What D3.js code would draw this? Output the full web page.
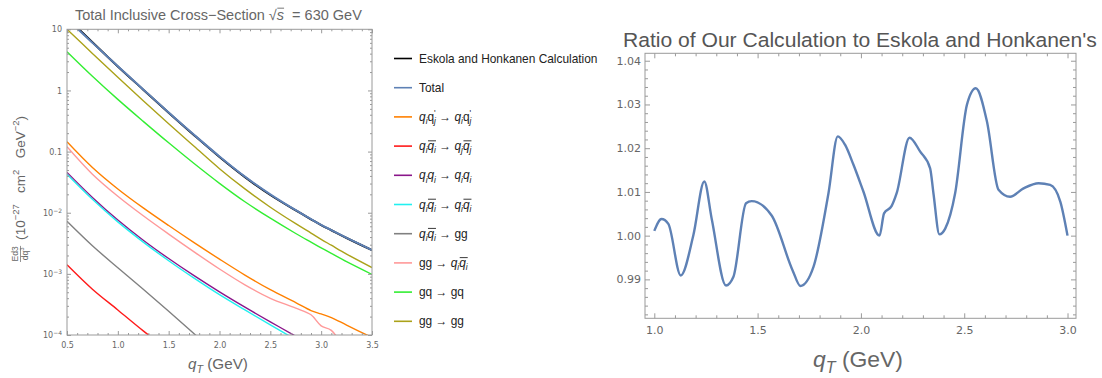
<!DOCTYPE html>
<html>
<head>
<meta charset="utf-8">
<title>Inclusive cross-section</title>
<script src="https://d3js.org/d3.v7.min.js"></script>
<style>
  body { margin: 0; background: #fff; }
  text { white-space: pre; }
</style>
</head>
<body>
<script>
// ---- data ----
var qT = [0.5, 0.75, 1.0, 1.25, 1.5, 1.75, 2.0, 2.25, 2.5, 2.75, 2.9, 3.0, 3.1, 3.25, 3.5];

// E d3sigma/dq3 in 10^-27 cm^2 GeV^-2 (null = below the plot)
var eskola   = [15.4, 6.15, 2.47, 1.03, 0.432, 0.185, 0.0815, 0.0382, 0.0195, 0.0109, 0.00781, 0.00628, 0.00517, 0.00386, 0.00244];
var total    = [14.8, 6.03, 2.48, 1.04, 0.437, 0.188, 0.0832, 0.0389, 0.0200, 0.0110, 0.00787, 0.00631, 0.00520, 0.00389, 0.00245];
var qqPrime  = [0.145, 0.0550, 0.0245, 0.0120, 0.00617, 0.00324, 0.00174, 0.000955, 0.000550, 0.000339, 0.000251, 0.000221, 0.000193, 0.000145, 0.0000912];
var qqbarJ   = [0.00141, 0.000562, 0.000257, 0.000117, 0.0000562, null, null, null, null, null, null, null, null, null, null];
var qqSame   = [0.0457, 0.0178, 0.00759, 0.00355, 0.00178, 0.000933, 0.000507, 0.000285, 0.000164, 0.0000955, 0.0000692, null, null, null, null];
var qqbarI   = [0.0427, 0.0166, 0.00708, 0.00331, 0.00164, 0.000851, 0.000457, 0.000257, 0.000146, 0.0000841, null, null, null, null, null];
var qqbarGG  = [0.00724, 0.00288, 0.00126, 0.000562, 0.000245, 0.000105, 0.0000447, null, null, null, null, null, null, null, null];
var ggQQbar  = [0.120, 0.0427, 0.0186, 0.00891, 0.00447, 0.00229, 0.00120, 0.000661, 0.000398, 0.000275, 0.000214, 0.000141, 0.000119, 0.0000501, null];
var gqGQ     = [4.31, 1.71, 0.714, 0.312, 0.139, 0.0637, 0.0302, 0.0151, 0.00813, 0.00457, 0.00330, 0.00266, 0.00216, 0.00158, 0.000977];
var ggGG     = [10.0, 4.03, 1.64, 0.676, 0.285, 0.122, 0.0525, 0.0245, 0.0123, 0.00661, 0.00465, 0.00367, 0.00294, 0.00211, 0.00127];

var seriesColors = ["#000000", "#5e81b5", "#ff8000", "#ff1a1a", "#8a168a", "#22f0f0", "#808080", "#ff9999", "#33ee33", "#aba21a"];

// ratio of our calculation to Eskola and Honkanen's
var ratioQ = [1.0, 1.035, 1.068, 1.128, 1.189, 1.242, 1.278, 1.347, 1.383, 1.444, 1.471, 1.568, 1.67, 1.707, 1.77, 1.843,
              1.888, 1.923, 1.964, 2.012, 2.09, 2.112, 2.149, 2.173, 2.235, 2.287, 2.335, 2.351, 2.38, 2.408, 2.456,
              2.513, 2.556, 2.61, 2.666, 2.722, 2.787, 2.86, 2.916, 2.965, 3.0];
var ratioV = [1.0011, 1.0038, 1.0027, 0.9909, 1.0001, 1.0124, 1.0038, 0.9886, 0.9906, 1.0074, 1.0079, 1.0046, 0.992, 0.9885, 0.9928, 1.0097,
              1.0227, 1.0208, 1.0162, 1.0101, 1.0000, 1.0051, 1.0068, 1.0097, 1.0224, 1.0192, 1.0154, 1.0097, 1.0003, 1.0016, 1.0097,
              1.0299, 1.0337, 1.0261, 1.0105, 1.0089, 1.0108, 1.012, 1.0116, 1.0078, 1.0000];

var logTicks = [1e-4, 1e-3, 1e-2, 0.1, 1, 10];
var logTickLabels = [["10", "\u22124"], ["10", "\u22123"], ["10", "\u22122"], ["0.1"], ["1"], ["10"]];

// ---- helpers ----
var FONT = "'Liberation Sans', Arial, sans-serif";
var svg = d3.select("body").append("svg")
  .attr("width", 1102).attr("height", 378)
  .style("font-family", FONT);

// draws a run of math pieces; returns the width used
function mathText(g, x, y, parts, size, color) {
  var cx = x;
  parts.forEach(function(p) {
    if (typeof p === "string") p = {t: p};
    var x0 = cx;
    var t = g.append("text").attr("x", cx).attr("y", y)
      .attr("font-size", size).attr("fill", color)
      .style("font-style", p.it ? "italic" : "normal").text(p.t);
    cx += t.node().getComputedTextLength();
    var adv = 0;
    if (p.sup) {
      var s = g.append("text").attr("x", cx).attr("y", y - size * 0.42)
        .attr("font-size", size * 0.7).attr("fill", color).text(p.sup);
      adv = Math.max(adv, s.node().getComputedTextLength());
    }
    if (p.sub) {
      var b = g.append("text").attr("x", cx).attr("y", y + size * 0.28)
        .attr("font-size", size * 0.7).attr("fill", color)
        .style("font-style", "italic").text(p.sub);
      adv = Math.max(adv, b.node().getComputedTextLength());
    }
    cx += adv;
    if (p.bar) {
      g.append("line").attr("x1", x0 + 0.5).attr("x2", cx)
        .attr("y1", y - size * 0.78).attr("y2", y - size * 0.78)
        .attr("stroke", color).attr("stroke-width", 0.9);
    }
  });
  return cx - x;
}

// same, but sized so the run is `width` px wide and centred on cx
function mathFit(g, cx, y, parts, size, color, width) {
  var w = mathText(g, 0, y, parts, size, color);
  g.selectAll("*").remove();
  var s2 = size * width / w;
  return mathText(g, cx - width / 2, y, parts, s2, color);
}

function Q(sub, opt) {
  var o = {t: "q", it: true, sub: sub};
  if (opt) for (var k in opt) o[k] = opt[k];
  return o;
}

var legendLabels = [
  ["Eskola and Honkanen Calculation"],
  ["Total"],
  [Q("i"), {t: "q", sup: "'", sub: "j"}, " \u2192 ", Q("i"), {t: "q", sup: "'", sub: "j"}],
  [Q("i"), Q("i", {bar: true}), " \u2192 ", Q("j"), Q("j", {bar: true})],
  [Q("i"), Q("i"), " \u2192 ", Q("i"), Q("i")],
  [Q("i"), Q("i", {bar: true}), " \u2192 ", Q("i"), Q("i", {bar: true})],
  [Q("i"), Q("i", {bar: true}), " \u2192 gg"],
  ["gg \u2192 ", Q("i"), Q("i", {bar: true})],
  ["gq \u2192 gq"],
  ["gg \u2192 gg"]
];

var frameColor = "#9a9a9a", tickText = "#666";

function styleAxis(g) {
  g.select(".domain").remove();
  g.selectAll("line").attr("stroke", frameColor);
  g.selectAll("text").attr("fill", tickText).style("font-family", "'DejaVu Sans', sans-serif");
}

// ---- left panel ----
var x = d3.scaleLinear().domain([0.5, 3.5]).range([67, 372]);
var y = d3.scaleLog().domain([1e-4, 10]).range([335, 29.3]);

var left = svg.append("g");

left.append("clipPath").attr("id", "clipL").append("rect")
  .attr("x", 67).attr("y", 29.3).attr("width", 305).attr("height", 305.7);

var line = d3.line()
  .defined(function(d) { return d[1] != null; })
  .x(function(d) { return x(d[0]); })
  .y(function(d) { return y(d[1]); })
  .curve(d3.curveCatmullRom.alpha(0.5));

var allSeries = [eskola, total, qqPrime, qqbarJ, qqSame, qqbarI, qqbarGG, ggQQbar, gqGQ, ggGG];
var curves = left.append("g").attr("clip-path", "url(#clipL)");
allSeries.forEach(function(s, i) {
  curves.append("path")
    .datum(qT.map(function(q, j) { return [q, s[j]]; }))
    .attr("d", line)
    .attr("fill", "none")
    .attr("stroke", seriesColors[i])
    .attr("stroke-width", i < 2 ? 2 : 1.4);
});

var xMaj = d3.range(0.5, 3.51, 0.5);
var xMin = d3.range(0.5, 3.51, 0.1).filter(function(v) { return Math.abs(v * 2 - Math.round(v * 2)) > 1e-6; });
var yMin = [];
[1e-4, 1e-3, 1e-2, 0.1, 1].forEach(function(d) { for (var k = 2; k <= 9; k++) yMin.push(d * k); });

left.append("g").attr("transform", "translate(0,335)")
  .call(d3.axisBottom(x).tickValues(xMaj).tickSize(-4).tickPadding(7).tickFormat(d3.format(".1f")))
  .call(styleAxis).selectAll("text").attr("font-size", 8);
left.append("g").attr("transform", "translate(0,335)")
  .call(d3.axisBottom(x).tickValues(xMin).tickSize(-2).tickFormat("")).call(styleAxis);
left.append("g").attr("transform", "translate(0,29.3)")
  .call(d3.axisTop(x).tickValues(xMaj).tickSize(-4).tickFormat("")).call(styleAxis);
left.append("g").attr("transform", "translate(0,29.3)")
  .call(d3.axisTop(x).tickValues(xMin).tickSize(-2).tickFormat("")).call(styleAxis);

var yl = left.append("g").attr("transform", "translate(67,0)")
  .call(d3.axisLeft(y).tickValues(logTicks).tickSize(-4).tickPadding(5).tickFormat(""))
  .call(styleAxis);
yl.selectAll(".tick text").each(function(d, i) {
  var t = d3.select(this).attr("font-size", 8);
  var lab = logTickLabels[i];
  t.append("tspan").text(lab[0]);
  if (lab[1]) t.append("tspan").attr("dy", -3).attr("font-size", 6).text(lab[1]);
});
left.append("g").attr("transform", "translate(67,0)")
  .call(d3.axisLeft(y).tickValues(yMin).tickSize(-2).tickFormat("")).call(styleAxis);
left.append("g").attr("transform", "translate(372,0)")
  .call(d3.axisRight(y).tickValues(logTicks).tickSize(-4).tickFormat("")).call(styleAxis);
left.append("g").attr("transform", "translate(372,0)")
  .call(d3.axisRight(y).tickValues(yMin).tickSize(-2).tickFormat("")).call(styleAxis);

left.append("rect").attr("x", 67).attr("y", 29.3).attr("width", 305).attr("height", 305.7)
  .attr("fill", "none").attr("stroke", frameColor);

// title
mathFit(left.append("g"), 218.5, 19.5,
  ["Total Inclusive Cross\u2212Section ", "\u221A", {t: "s", it: true, bar: true}, "  = 630 GeV"], 13.5, "#666", 287);

// x label
mathFit(left.append("g"), 218, 369, [{t: "q", it: true, sub: "T"}, " (GeV)"], 13.5, "#666", 60);

// y label (rotated): fraction E d3 / dq3 followed by units
var yg = left.append("g");
var fr = yg.append("g");
var num = fr.append("text").attr("x", 0).attr("y", -2.5).attr("font-size", 8.5).attr("fill", "#666").text("Ed3");
var nw = num.node().getComputedTextLength();
var dg = fr.append("g");
var dw = mathText(dg, 0, 8, [{t: "dq", sup: "3"}], 8.5, "#666");
var fw = Math.max(nw, dw) + 1;
num.attr("x", (fw - nw) / 2);
dg.attr("transform", "translate(" + (fw - dw) / 2 + ",0)");
fr.append("line").attr("x1", 0).attr("x2", fw).attr("y1", 0.5).attr("y2", 0.5)
  .attr("stroke", "#666").attr("stroke-width", 0.7);
mathFit(yg.append("g"), fw + 6 + 62, 4.5,
  ["(10", {t: "", sup: "\u221227"}, "   cm", {t: "", sup: "2"}, "   GeV", {t: "", sup: "\u22122"}, ")"], 10.5, "#666", 124);
yg.attr("transform", "translate(20,262) rotate(-90)");

// legend
var legend = svg.append("g");
legendLabels.forEach(function(lab, i) {
  var ly = 58.5 + i * 29.2;
  legend.append("line").attr("x1", 394).attr("x2", 412).attr("y1", ly).attr("y2", ly)
    .attr("stroke", seriesColors[i]).attr("stroke-width", 1.6);
  mathText(legend, 419, ly + 4, lab, 11.9, "#222");
});

// ---- right panel ----
var xr = d3.scaleLinear().domain([0.955, 3.041]).range([645, 1076]);
var yr = d3.scaleLinear().domain([0.9811, 1.0417]).range([318.3, 53.3]);
var right = svg.append("g");

var rxMaj = d3.range(1.0, 3.01, 0.5);
var rxMin = d3.range(1.0, 3.01, 0.1).filter(function(v) { return Math.abs(v * 2 - Math.round(v * 2)) > 1e-6; });
var ryMaj = d3.range(0.99, 1.0401, 0.01);
var ryMin = d3.range(0.982, 1.0411, 0.002).filter(function(v) { return Math.abs(v * 100 - Math.round(v * 100)) > 1e-6; });

right.append("g").attr("transform", "translate(0,318.3)")
  .call(d3.axisBottom(xr).tickValues(rxMaj).tickSize(-5).tickPadding(8).tickFormat(d3.format(".1f")))
  .call(styleAxis).selectAll("text").attr("font-size", 11);
right.append("g").attr("transform", "translate(0,318.3)")
  .call(d3.axisBottom(xr).tickValues(rxMin).tickSize(-3).tickFormat("")).call(styleAxis);
right.append("g").attr("transform", "translate(0,53.3)")
  .call(d3.axisTop(xr).tickValues(rxMaj).tickSize(-5).tickFormat("")).call(styleAxis);
right.append("g").attr("transform", "translate(0,53.3)")
  .call(d3.axisTop(xr).tickValues(rxMin).tickSize(-3).tickFormat("")).call(styleAxis);
right.append("g").attr("transform", "translate(645,0)")
  .call(d3.axisLeft(yr).tickValues(ryMaj).tickSize(-5).tickPadding(4).tickFormat(d3.format(".2f")))
  .call(styleAxis).selectAll("text").attr("font-size", 11);
right.append("g").attr("transform", "translate(645,0)")
  .call(d3.axisLeft(yr).tickValues(ryMin).tickSize(-3).tickFormat("")).call(styleAxis);
right.append("g").attr("transform", "translate(1076,0)")
  .call(d3.axisRight(yr).tickValues(ryMaj).tickSize(-5).tickFormat("")).call(styleAxis);
right.append("g").attr("transform", "translate(1076,0)")
  .call(d3.axisRight(yr).tickValues(ryMin).tickSize(-3).tickFormat("")).call(styleAxis);

right.append("rect").attr("x", 645).attr("y", 53.3).attr("width", 431).attr("height", 265)
  .attr("fill", "none").attr("stroke", frameColor);

right.append("path")
  .datum(ratioQ.map(function(q, i) { return [q, ratioV[i]]; }))
  .attr("d", d3.line().x(function(d) { return xr(d[0]); }).y(function(d) { return yr(d[1]); }).curve(d3.curveMonotoneX))
  .attr("fill", "none").attr("stroke", "#5e81b5").attr("stroke-width", 2.4)
  .attr("stroke-linejoin", "round");

mathFit(right.append("g"), 860, 46.5, ["Ratio of Our Calculation to Eskola and Honkanen's"], 19, "#555", 474);

mathFit(right.append("g"), 858, 367, [{t: "q", it: true, sub: "T"}, " (GeV)"], 19, "#666", 90);
</script>
</body>
</html>
